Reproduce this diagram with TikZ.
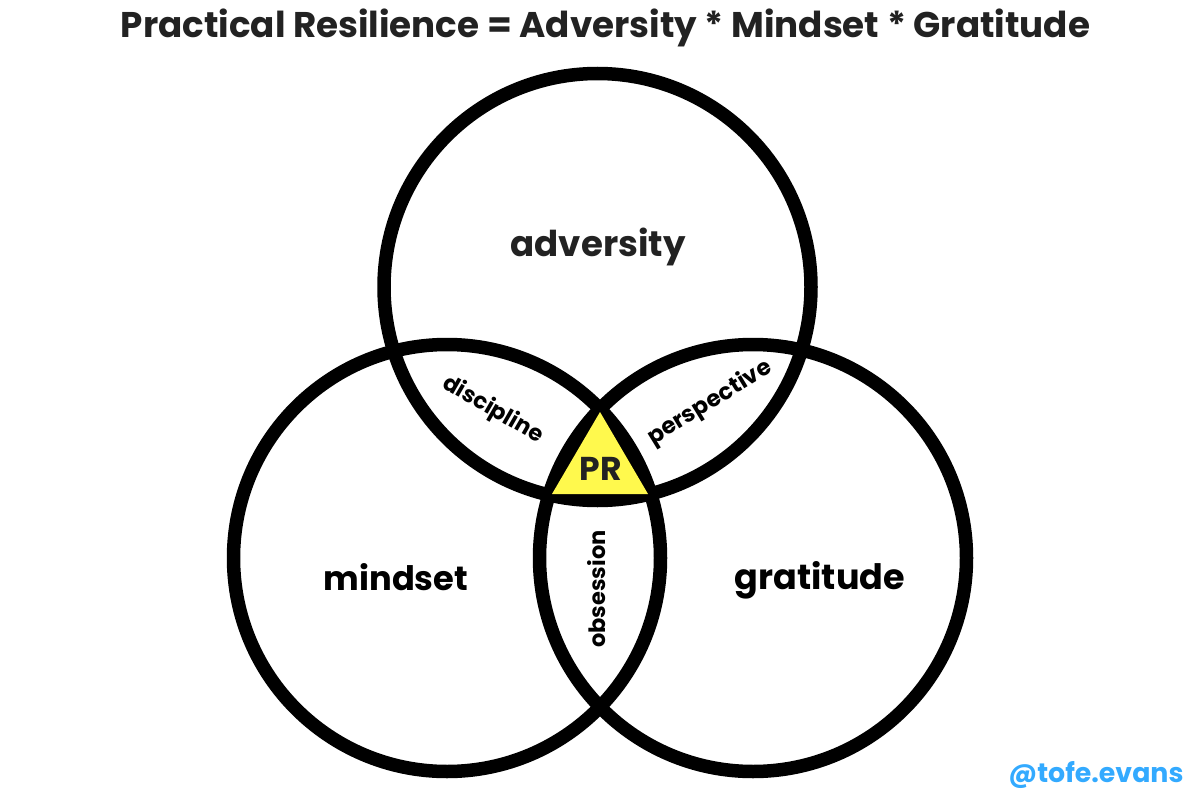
\documentclass[tikz,border=0pt]{standalone}
\usepackage{fontspec}
\setmainfont{Poppins}[BoldFont={* Bold}]
\definecolor{ink}{HTML}{222222}
\definecolor{prfill}{HTML}{FFF94D}
\definecolor{handle}{HTML}{33AAFF}
\tikzset{
 ring/.style={draw=black,line width=13.5pt},
 small/.style={font=\bfseries\fontsize{22.5}{24}\selectfont,text=black},
}
\begin{document}
\begin{tikzpicture}[x=1pt,y=-1pt]
\useasboundingbox (0,0) rectangle (1200,800);
\fill[white] (0,0) rectangle (1200,800);
\coordinate (ca) at (597.5,287);
\coordinate (cm) at (447,558);
\coordinate (cg) at (753,558);
\coordinate (t1) at (600,412);
\coordinate (t2) at (552,494);
\coordinate (t3) at (648,494);
\begin{scope}
\clip (ca) circle (213.5);
\clip (cm) circle (213.5);
\fill[black] (cg) circle (213.5);
\end{scope}
\draw[ring] (ca) circle (213.5);
\draw[ring] (cm) circle (213.5);
\draw[ring] (cg) circle (213.5);
\fill[prfill] (t1) -- (t2) -- (t3) -- cycle;
\node[font=\bfseries\fontsize{35.7}{38}\selectfont,text=ink] (title) at (605.5,28) {Practical Resilience = Adversity * Mindset * Gratitude};
\node[font=\bfseries\fontsize{35.6}{38}\selectfont,text=ink] (adv) at (598,247) {adversity};
\node[font=\bfseries\fontsize{33.7}{36}\selectfont,text=black] (min) at (396,577) {mindset};
\node[font=\bfseries\fontsize{35}{38}\selectfont,text=black] (gra) at (820,580) {gratitude};
\node[small,rotate=-30] (dis) at (493,410) {discipline};
\node[small,rotate=31.5,font=\bfseries\fontsize{23}{25}\selectfont] (per) at (710,403) {perspective};
\node[small,rotate=90] (obs) at (597,589) {obsession};
\node[font=\bfseries\fontsize{33}{35}\selectfont,text=ink] (pr) at (601,469) {PR};
\node[font=\bfseries\fontsize{26.8}{29}\selectfont,text=handle,anchor=east] (tag) at (1187,775) {@tofe.evans};
\end{tikzpicture}
\end{document}
